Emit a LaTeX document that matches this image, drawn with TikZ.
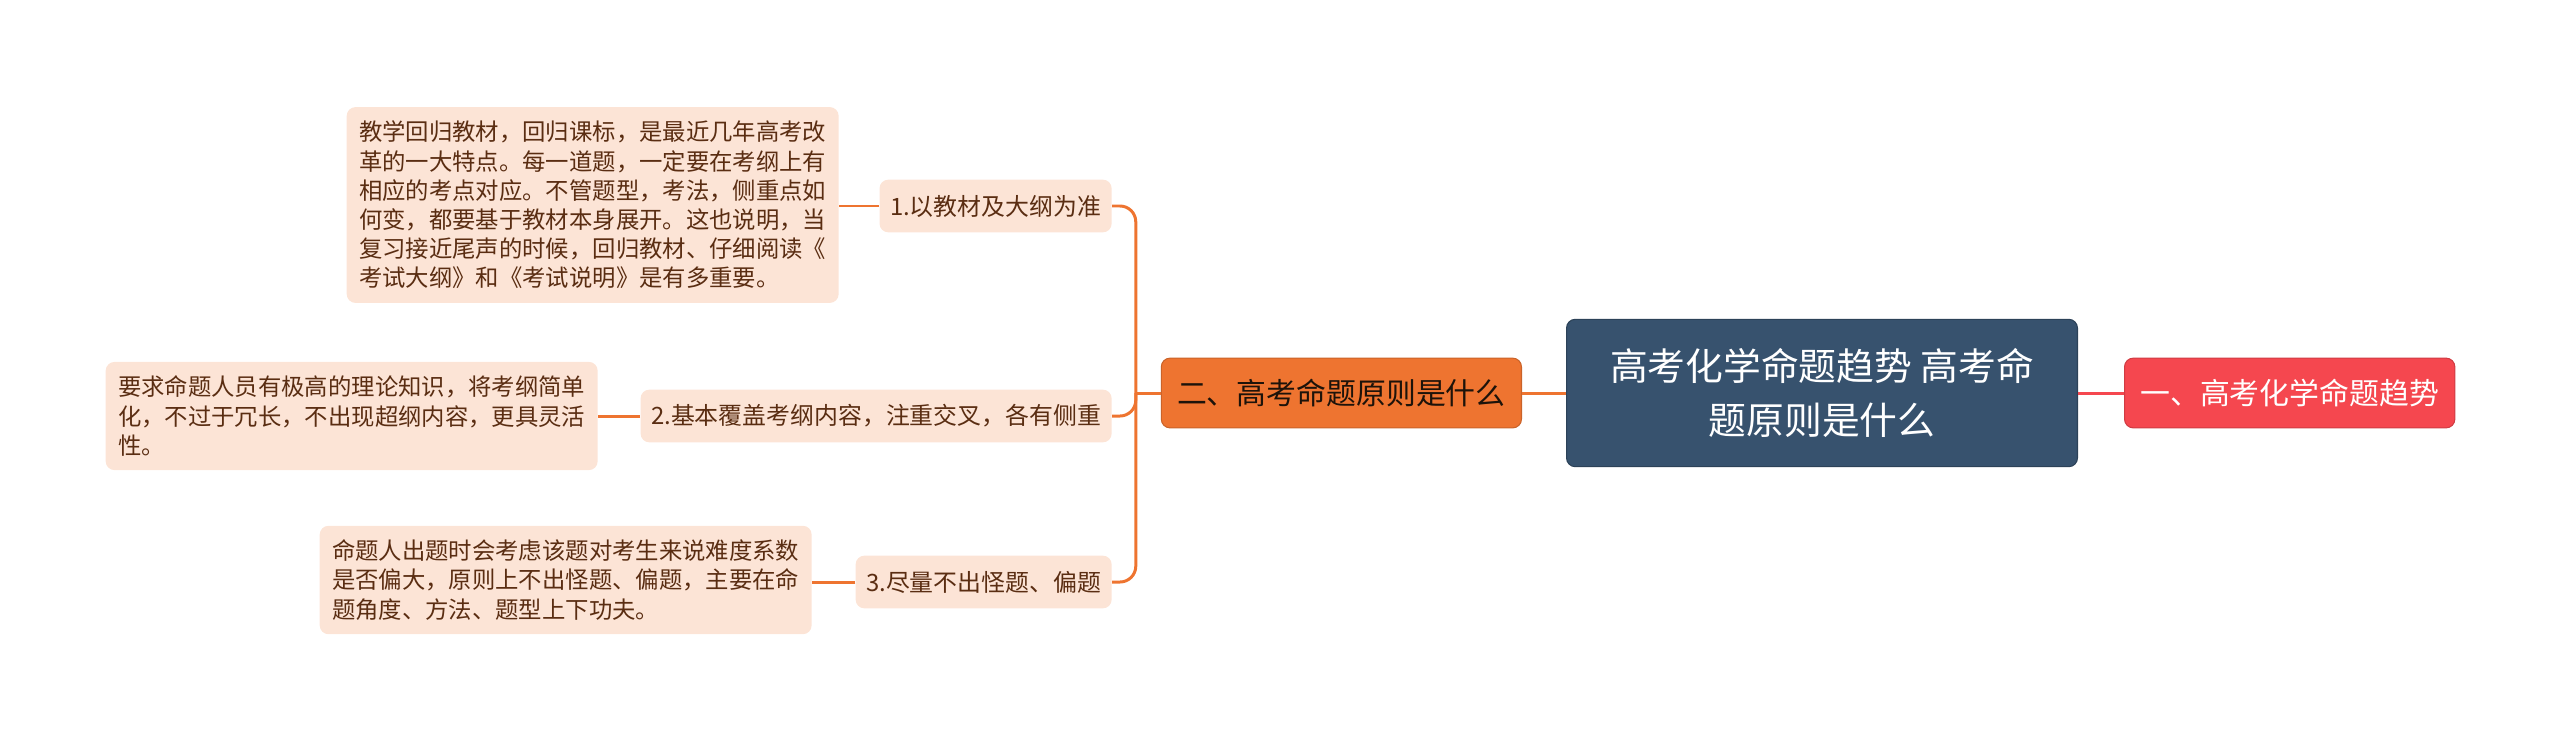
\documentclass[tikz,border=0pt]{standalone}
\usepackage{fontspec}
\setmainfont{Noto Sans CJK SC}
\usepackage{tikz}
\usetikzlibrary{positioning,calc}

\definecolor{rootblue}{HTML}{37526E}
\definecolor{branchorange}{HTML}{EE7430}
\definecolor{trendred}{HTML}{F5474F}
\definecolor{leafpeach}{HTML}{FCE4D6}
\definecolor{leaftext}{HTML}{5A2D12}

\begin{document}
\begin{tikzpicture}[
  x=0.02cm, y=-0.02cm,
  rootbox/.style={draw=rootblue!80!black, line width=0.6pt, rectangle, rounded corners=5pt,
                  fill=rootblue, text=white, align=center,
                  minimum width=290.8pt, minimum height=83.9pt,
                  font=\fontsize{21.5pt}{30.6pt}\selectfont},
  mainbox/.style={draw=branchorange!85!black, line width=0.6pt, rectangle, rounded corners=5pt,
                  fill=branchorange, text=black!85!brown, minimum height=39.7pt,
                  inner xsep=9pt, font=\fontsize{17pt}{20pt}\selectfont},
  trendbox/.style={draw=trendred!85!black, line width=0.6pt, rectangle, rounded corners=5pt,
                   fill=trendred, text=white, minimum height=39.7pt,
                   inner xsep=9pt, font=\fontsize{17pt}{20pt}\selectfont},
  subbox/.style={rectangle, rounded corners=5pt, fill=leafpeach, text=leaftext,
                 minimum height=30pt, inner xsep=6pt,
                 font=\fontsize{13.6pt}{16pt}\selectfont},
  leafbox/.style={rectangle, rounded corners=5pt, fill=leafpeach, text=leaftext,
                  align=left, inner xsep=7pt, inner ysep=8pt,
                  font=\fontsize{13.3pt}{16.6pt}\selectfont},
  link/.style={draw=branchorange, line width=1.7pt},
  redlink/.style={draw=trendred, line width=1.7pt}
]

% ===== 画布范围 =====
\useasboundingbox (0,0) rectangle (2560,741);

% ===== 中心主题 =====
\node[rootbox] (root) at (1822, 393)
  {高考化学命题趋势 高考命\\题原则是什么};

% ===== 一级分支 =====
\node[trendbox, anchor=west] (trend) at (2124, 393) {一、高考化学命题趋势};
\node[mainbox, anchor=east] (rule) at (1522, 393) {二、高考命题原则是什么};

% ===== 二级分支 =====
\node[subbox, anchor=east] (s1) at (1112, 206) {1.以教材及大纲为准};
\node[subbox, anchor=east] (s2) at (1112, 416) {2.基本覆盖考纲内容，注重交叉，各有侧重};
\node[subbox, anchor=east] (s3) at (1112, 582) {3.尽量不出怪题、偏题};

% ===== 说明文字 =====
\node[leafbox, anchor=east] (l1) at (839, 205)
  {教学回归教材，回归课标，是最近几年高考改\\
   革的一大特点。每一道题，一定要在考纲上有\\
   相应的考点对应。不管题型，考法，侧重点如\\
   何变，都要基于教材本身展开。这也说明，当\\
   复习接近尾声的时候，回归教材、仔细阅读《\\
   考试大纲》和《考试说明》是有多重要。};
\node[leafbox, anchor=east] (l2) at (598, 416)
  {要求命题人员有极高的理论知识，将考纲简单\\
   化，不过于冗长，不出现超纲内容，更具灵活\\
   性。};
\node[leafbox, anchor=east] (l3) at (812, 580)
  {命题人出题时会考虑该题对考生来说难度系数\\
   是否偏大，原则上不出怪题、偏题，主要在命\\
   题角度、方法、题型上下功夫。};

% ===== 连线 =====
\draw[redlink] (root.east) -- (trend.west);
\draw[link] (root.west) -- (rule.east);
\path (rule.west) ++(-25,0) coordinate (J);
\draw[link] (rule.west) -- (J);
\foreach \s in {s1,s2,s3}
  \draw[link, rounded corners=9pt] (J) |- (\s.east);
\draw[link] (s1.west) -- (l1.east |- s1.west);
\draw[link] (s2.west) -- (l2.east |- s2.west);
\draw[link] (s3.west) -- (l3.east |- s3.west);

\end{tikzpicture}
\end{document}
